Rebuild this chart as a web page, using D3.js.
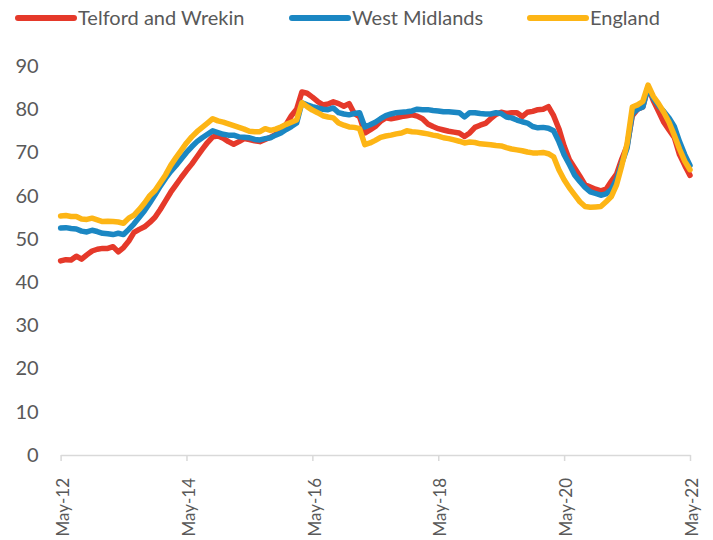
<!DOCTYPE html>
<html>
<head>
<meta charset="utf-8">
<script src="https://cdn.jsdelivr.net/npm/d3@7"></script>
<style>
  html, body { margin: 0; padding: 0; background: #ffffff; }
  svg { display: block; font-family: Lato, "Liberation Sans", sans-serif; }
</style>
</head>
<body>
<svg id="chart" width="713" height="540"></svg>
<script>
// ---- data (monthly, May-12 .. May-22) ----
const seriesNames = ["Telford and Wrekin", "West Midlands", "England"];
const seriesColors = ["#E5392A", "#1B87C3", "#FDB515"];
const tickLabels = ["May-12", "May-14", "May-16", "May-18", "May-20", "May-22"];
const yTicks = [0, 10, 20, 30, 40, 50, 60, 70, 80, 90];

const telford = [
  44.9, 45.2, 45.1, 46.0, 45.3, 46.3, 47.2, 47.6, 47.8, 47.8, 48.2, 47.0,
  48.0, 49.5, 51.5, 52.2, 52.8, 53.8, 55.0, 56.8, 58.8, 60.8, 62.5, 64.2,
  65.8, 67.3, 69.0, 70.7, 72.3, 73.6, 73.8, 73.3, 72.5, 71.9, 72.5, 73.2,
  73.0, 72.7, 72.5, 73.0, 73.5, 74.2, 75.5, 76.5, 78.5, 80.0, 84.0, 83.7,
  82.8, 81.8, 81.0, 81.2, 81.7, 81.3, 80.7, 81.3, 79.0, 78.3, 74.5, 75.2,
  76.0, 77.2, 78.0, 77.8, 78.0, 78.3, 78.5, 78.7, 78.4, 77.8, 76.6, 76.0,
  75.5, 75.2, 74.9, 74.7, 74.5, 73.7, 74.5, 75.8, 76.3, 76.7, 77.8, 78.8,
  79.3, 79.0, 79.2, 79.2, 78.3, 79.3, 79.5, 79.9, 80.0, 80.6, 78.5, 75.5,
  71.5, 68.3, 66.4, 64.5, 62.5, 62.0, 61.5, 61.1, 61.5, 63.3, 65.0, 68.5,
  71.5, 78.5, 80.0, 80.5, 85.2, 82.0, 79.5, 77.0, 75.2, 73.5, 69.5, 67.0,
  64.7
];
const westMidlands = [
  52.5, 52.6, 52.4, 52.3, 51.8, 51.6, 52.0, 51.7, 51.3, 51.2, 51.0, 51.3,
  51.0, 52.2, 53.5, 55.0, 56.5, 58.3, 60.2, 62.2, 64.0, 65.6, 67.0, 68.5,
  70.0, 71.3, 72.5, 73.4, 74.2, 75.0, 74.6, 74.2, 74.0, 74.0, 73.6, 73.5,
  73.4, 73.0, 72.9, 73.2, 73.4, 74.0, 74.5, 75.3, 76.0, 76.8, 81.5, 81.0,
  80.6, 80.3, 80.0, 79.9, 80.3, 79.2, 78.9, 78.7, 79.0, 79.2, 75.9, 76.4,
  77.0, 77.8, 78.5, 78.9, 79.2, 79.3, 79.4, 79.6, 80.0, 79.9, 79.9, 79.7,
  79.6, 79.4, 79.4, 79.3, 79.2, 78.2, 79.2, 79.2, 79.0, 78.9, 78.9, 79.2,
  79.0, 78.2, 78.0, 77.5, 77.1, 76.8, 76.0, 75.7, 75.8, 75.6, 75.0, 72.5,
  69.5, 67.2, 64.8, 63.3, 61.9, 60.9, 60.5, 60.1, 60.4, 61.5, 63.8, 67.5,
  71.0, 79.0, 80.0, 80.5, 85.0, 82.5, 80.8, 79.5, 78.0, 76.0, 72.5, 69.5,
  67.0
];
const england = [
  55.3, 55.4, 55.2, 55.2, 54.6, 54.5, 54.8, 54.4, 54.0, 54.1, 54.0, 53.9,
  53.6, 54.8, 55.5, 56.8, 58.3, 60.0, 61.2, 63.0, 64.8, 67.0, 68.8, 70.5,
  72.2, 73.6, 74.8, 75.8, 76.8, 77.8, 77.3, 77.0, 76.6, 76.2, 75.8, 75.4,
  74.9, 74.8, 74.8, 75.5, 75.1, 75.4, 75.9, 76.5, 77.0, 77.5, 81.5, 80.6,
  79.8, 79.2, 78.5, 78.2, 78.0, 76.8, 76.3, 75.9, 75.8, 75.5, 71.8, 72.2,
  72.8, 73.5, 73.8, 74.0, 74.3, 74.5, 75.0, 74.8, 74.7, 74.5, 74.3, 74.0,
  73.8, 73.4, 73.2, 72.9, 72.6, 72.2, 72.4, 72.3, 72.0, 71.9, 71.8, 71.6,
  71.5, 71.1, 70.8, 70.6, 70.4, 70.1, 69.9, 69.9, 70.0, 69.7, 69.0, 66.0,
  63.7, 61.8, 60.2, 58.6, 57.5, 57.3, 57.4, 57.5, 58.6, 59.8, 62.5, 67.0,
  72.0, 80.5, 81.0, 81.8, 85.6, 83.0, 81.3, 79.3, 77.0, 74.0, 70.8, 68.0,
  66.0
];
const seriesValues = [telford, westMidlands, england];

// ---- layout ----
const svg = d3.select("#chart");
const x0 = 60.6, x1 = 690, yBottom = 455, yTop = 66;
const textColor = "#595959";
const axisColor = "#D9D9D9";

const x = d3.scaleLinear().domain([0, telford.length - 1]).range([x0, x1]);
const y = d3.scaleLinear().domain([0, 90]).range([yBottom, yTop]);
const tickIndex = tickLabels.map((d, i) => i * 24);

// Y axis (labels only)
const yAxis = svg.append("g")
  .attr("transform", `translate(${x0},0)`)
  .call(d3.axisLeft(y).tickValues(yTicks).tickSize(0).tickPadding(22).tickFormat(d3.format("d")));
yAxis.select(".domain").remove();
yAxis.selectAll("text")
  .attr("fill", textColor)
  .style("font-size", "20px")
  .style("font-family", "Lato, 'Liberation Sans', sans-serif");

// X axis
const xAxis = svg.append("g")
  .attr("transform", `translate(0,${yBottom})`)
  .call(d3.axisBottom(x).tickValues(tickIndex).tickSizeInner(6).tickSizeOuter(0)
    .tickFormat((d, i) => tickLabels[i]));
xAxis.select(".domain").attr("stroke", axisColor).attr("stroke-width", 1.5);
xAxis.selectAll(".tick line").attr("stroke", axisColor).attr("stroke-width", 1.5);
xAxis.selectAll("text")
  .attr("fill", textColor)
  .style("font-size", "17px")
  .style("font-family", "Lato, 'Liberation Sans', sans-serif")
  .attr("text-anchor", "end")
  .attr("transform", "rotate(-90)")
  .attr("x", -23)
  .attr("y", 0)
  .attr("dy", "0.45em");

// Lines
const line = d3.line()
  .x((d, i) => x(i))
  .y(d => y(d));

svg.append("g").selectAll("path")
  .data(seriesValues)
  .join("path")
  .attr("d", d => line(d))
  .attr("fill", "none")
  .attr("stroke", (d, i) => seriesColors[i])
  .attr("stroke-width", 5.5)
  .attr("stroke-linejoin", "round")
  .attr("stroke-linecap", "round");

// Legend
const legendX = [18, 292, 530];
const legend = svg.append("g").selectAll("g")
  .data(seriesNames)
  .join("g")
  .attr("transform", (d, i) => `translate(${legendX[i]},18)`);
legend.append("line")
  .attr("x1", 0).attr("x2", 56).attr("y1", 0).attr("y2", 0)
  .attr("stroke", (d, i) => seriesColors[i])
  .attr("stroke-width", 6)
  .attr("stroke-linecap", "round");
legend.append("text")
  .attr("x", 60)
  .attr("y", 0)
  .attr("dy", "0.35em")
  .attr("fill", textColor)
  .style("font-size", "20px")
  .text(d => d);
</script>
</body>
</html>
